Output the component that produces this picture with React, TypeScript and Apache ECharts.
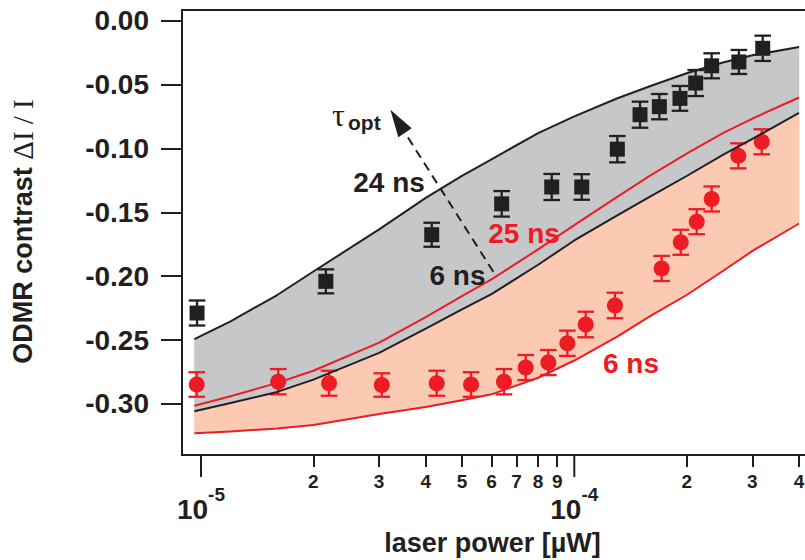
import React, { useEffect, useRef } from 'react';
import * as echarts from 'echarts';

// ---- theory curves, shared power grid (µW) ----
const curvePower = [9.6e-6, 1.2e-5, 1.6e-5, 2e-5, 3e-5, 4e-5, 5e-5, 6e-5, 8e-5, 1e-4, 1.3e-4, 1.6e-4, 2e-4, 2.5e-4, 3e-4, 4e-4];
const theoryBlack24ns = [-0.2493, -0.2353, -0.2147, -0.1963, -0.1633, -0.1386, -0.1214, -0.1084, -0.0879, -0.0748, -0.0608, -0.0510, -0.0410, -0.0326, -0.0270, -0.0205];
const theoryBlack6ns = [-0.3057, -0.2993, -0.2906, -0.2810, -0.2600, -0.2410, -0.2260, -0.2140, -0.1910, -0.1720, -0.1526, -0.1375, -0.1215, -0.1050, -0.0925, -0.0720];
const theoryRed25ns = [-0.3015, -0.2940, -0.2835, -0.2740, -0.2520, -0.2320, -0.2155, -0.2025, -0.1790, -0.1600, -0.1380, -0.1210, -0.1040, -0.0880, -0.0765, -0.0600];
const theoryRed6ns = [-0.3230, -0.3216, -0.3192, -0.3165, -0.3079, -0.3024, -0.2972, -0.2925, -0.2795, -0.2660, -0.2475, -0.2311, -0.2147, -0.1959, -0.1802, -0.1587];

// ---- measured data: black squares ----
const squarePower = [9.76e-6, 2.16e-5, 4.15e-5, 6.39e-5, 8.7e-5, 1.047e-4, 1.304e-4, 1.5e-4, 1.69e-4, 1.919e-4, 2.114e-4, 2.333e-4, 2.76e-4, 3.197e-4];
const squareContrast = [-0.2288, -0.204, -0.1675, -0.1433, -0.1301, -0.1301, -0.1005, -0.0735, -0.0672, -0.0607, -0.0487, -0.0352, -0.0322, -0.0215];
const squareError = [0.0098, 0.0094, 0.0094, 0.01, 0.0102, 0.01, 0.0103, 0.0102, 0.0099, 0.0097, 0.0102, 0.0098, 0.0094, 0.0099];

// ---- measured data: red circles ----
const circlePower = [9.74e-6, 1.61e-5, 2.203e-5, 3.05e-5, 4.28e-5, 5.29e-5, 6.48e-5, 7.41e-5, 8.52e-5, 9.58e-5, 1.073e-4, 1.285e-4, 1.714e-4, 1.928e-4, 2.128e-4, 2.333e-4, 2.75e-4, 3.177e-4];
const circleContrast = [-0.2848, -0.2826, -0.2838, -0.2852, -0.2838, -0.2848, -0.2826, -0.2715, -0.2676, -0.2525, -0.2378, -0.2229, -0.1939, -0.1734, -0.1573, -0.1395, -0.1057, -0.0947];
const circleError = [0.0096, 0.0099, 0.0098, 0.0092, 0.0098, 0.0096, 0.0099, 0.0098, 0.0098, 0.0099, 0.01, 0.01, 0.0098, 0.0098, 0.0098, 0.0098, 0.0098, 0.0098];

// ---- ticks ----
const majorTickPower = [1e-5, 1e-4];
const minorTickPower = [2e-5, 3e-5, 4e-5, 5e-5, 6e-5, 7e-5, 8e-5, 9e-5, 2e-4, 3e-4, 4e-4];
const yTicks = [-0.3, -0.25, -0.2, -0.15, -0.1, -0.05, 0];

const BLACK = '#231f20';
const RED = '#ed1c24';
const GREY = '#c6c7c9';
const SALMON = '#fcc9b3';
const SANS = '"Liberation Sans", Arial, Helvetica, sans-serif';
const SERIF = '"Liberation Serif", "Times New Roman", serif';

const X_MIN = -5.0509;
const X_MAX = -3.3552;
const Y_MIN = -0.34;
const Y_MAX = 0.0085;

const lg = (p: number) => Math.log10(p);

function curveData(values: number[]) {
  return curvePower.map((p, i) => [lg(p), values[i]]);
}

function band(upper: number[], lower: number[], color: string) {
  return {
    type: 'custom',
    silent: true,
    data: curvePower.map((p, i) => [lg(p), upper[i], lower[i]]),
    encode: { x: 0, y: [1, 2] },
    renderItem: (params: any, api: any) => {
      if (params.dataIndexInside !== 0) return { type: 'group', children: [] };
      const n = params.dataInsideLength;
      const top: number[][] = [];
      const bot: number[][] = [];
      for (let i = 0; i < n; i++) {
        const x = api.value(0, i);
        top.push(api.coord([x, api.value(1, i)]));
        bot.push(api.coord([x, api.value(2, i)]));
      }
      return {
        type: 'polygon',
        shape: { points: top.concat(bot.reverse()) },
        style: { fill: color, stroke: color, lineWidth: 0.5 },
      };
    },
  };
}

function errorBars(power: number[], val: number[], err: number[], color: string) {
  return {
    type: 'custom',
    silent: true,
    data: power.map((p, i) => [lg(p), val[i] - err[i], val[i] + err[i]]),
    encode: { x: 0, y: [1, 2] },
    renderItem: (params: any, api: any) => {
      const x = api.value(0);
      const lo = api.coord([x, api.value(1)]);
      const hi = api.coord([x, api.value(2)]);
      const hw = 8.3;
      const style = { stroke: color, lineWidth: 2.3 };
      return {
        type: 'group',
        children: [
          { type: 'line', shape: { x1: lo[0], y1: lo[1], x2: hi[0], y2: hi[1] }, style },
          { type: 'line', shape: { x1: lo[0] - hw, y1: lo[1], x2: lo[0] + hw, y2: lo[1] }, style },
          { type: 'line', shape: { x1: hi[0] - hw, y1: hi[1], x2: hi[0] + hw, y2: hi[1] }, style },
        ],
      };
    },
  };
}

// long decade ticks below the frame, placed through the axes' scales
function majorTicks() {
  return {
    type: 'custom',
    silent: true,
    clip: false,
    data: majorTickPower.map((p) => [lg(p), Y_MIN]),
    encode: { x: 0, y: 1 },
    renderItem: (params: any, api: any) => {
      const pt = api.coord([api.value(0), api.value(1)]);
      return {
        type: 'line',
        shape: { x1: pt[0], y1: pt[1], x2: pt[0], y2: pt[1] + 22 },
        style: { stroke: BLACK, lineWidth: 2 },
      };
    },
  };
}

function theoryLine(values: number[], color: string) {
  return {
    type: 'line',
    silent: true,
    symbol: 'none',
    showSymbol: false,
    data: curveData(values),
    lineStyle: { color, width: 2, join: 'round' },
  };
}

function txt(text: string, x: number, y: number, color: string, size = 28, extra: any = {}) {
  return {
    type: 'text',
    x,
    y,
    z: 100,
    style: {
      text,
      fill: color,
      fontFamily: SANS,
      fontWeight: 'bold',
      fontSize: size,
      align: 'center',
      textAlign: 'center',
      verticalAlign: 'middle',
      textVerticalAlign: 'middle',
      ...extra,
    },
  };
}

export default function App() {
  const ref = useRef<HTMLDivElement>(null);

  useEffect(() => {
    if (!ref.current) return;
    const chart = echarts.init(ref.current, null, { renderer: 'svg' });

    const option: any = {
      animation: false,
      textStyle: { fontFamily: SANS },
      grid: {
        left: 182,
        top: 10,
        right: -10,
        bottom: 105,
        show: true,
        borderColor: BLACK,
        borderWidth: 2,
        backgroundColor: 'transparent',
        outerBoundsMode: 'none',
      },
      xAxis: [
        {
          type: 'value',
          position: 'bottom',
          min: X_MIN,
          max: X_MAX,
          axisLine: { show: false },
          splitLine: { show: false },
          axisTick: { show: false },
          axisLabel: {
            customValues: majorTickPower.map(lg),
            margin: 38,
            formatter: (v: number) => `{a|10}{b|${Math.round(v)}}`,
            rich: {
              a: { fontSize: 28, fontWeight: 'bold', fontFamily: SANS, color: BLACK, lineHeight: 30, verticalAlign: 'bottom' },
              b: { fontSize: 19, fontWeight: 'bold', fontFamily: SANS, color: BLACK, lineHeight: 20, verticalAlign: 'bottom', padding: [0, 0, 19, 0] },
            },
          },
        },
        {
          type: 'value',
          position: 'bottom',
          min: X_MIN,
          max: X_MAX,
          axisLine: { show: false },
          splitLine: { show: false },
          axisTick: {
            show: true,
            customValues: minorTickPower.map(lg),
            length: 12,
            lineStyle: { color: BLACK, width: 2 },
          },
          axisLabel: {
            customValues: minorTickPower.map(lg),
            margin: 17,
            fontSize: 19,
            lineHeight: 19,
            fontWeight: 'bold',
            fontFamily: SANS,
            color: BLACK,
            formatter: (v: number) => {
              const p = Math.pow(10, v);
              const dec = Math.pow(10, Math.floor(v + 1e-9));
              return String(Math.round(p / dec));
            },
          },
        },
      ],
      yAxis: {
        type: 'value',
        min: Y_MIN,
        max: Y_MAX,
        axisLine: { show: false },
        splitLine: { show: false },
        axisTick: {
          show: true,
          customValues: yTicks,
          length: 21,
          lineStyle: { color: BLACK, width: 2 },
        },
        axisLabel: {
          customValues: yTicks,
          margin: 33,
          fontSize: 28,
          fontWeight: 'bold',
          fontFamily: SANS,
          color: BLACK,
          formatter: (v: number) => (Math.abs(v) < 1e-9 ? '0.00' : v.toFixed(2)),
        },
      },
      series: [
        band(theoryBlack6ns, theoryRed6ns, SALMON),
        band(theoryBlack24ns, theoryBlack6ns, GREY),
        theoryLine(theoryBlack24ns, BLACK),
        theoryLine(theoryBlack6ns, BLACK),
        theoryLine(theoryRed25ns, RED),
        theoryLine(theoryRed6ns, RED),
        errorBars(squarePower, squareContrast, squareError, BLACK),
        errorBars(circlePower, circleContrast, circleError, RED),
        majorTicks(),
        {
          type: 'scatter',
          silent: true,
          symbol: 'rect',
          symbolSize: 15,
          itemStyle: { color: BLACK, opacity: 1 },
          data: squarePower.map((p, i) => [lg(p), squareContrast[i]]),
        },
        {
          type: 'scatter',
          silent: true,
          symbol: 'circle',
          symbolSize: 16,
          itemStyle: { color: RED, opacity: 1 },
          data: circlePower.map((p, i) => [lg(p), circleContrast[i]]),
        },
      ],
      graphic: {
        elements: [
          {
            type: 'text',
            x: 23,
            y: 231.5,
            rotation: Math.PI / 2,
            style: {
              text: '{a|ODMR contrast }{b|ΔI / I}',
              align: 'center',
              textAlign: 'center',
              verticalAlign: 'middle',
              textVerticalAlign: 'middle',
              rich: {
                a: { fontFamily: SANS, fontWeight: 'bold', fontSize: 27, fill: BLACK },
                b: { fontFamily: SERIF, fontSize: 29, fill: BLACK },
              },
            },
          },
          txt('laser power [µW]', 492.5, 543, BLACK, 27),
          txt('24 ns', 389, 182, BLACK),
          txt('6 ns', 457.5, 275.5, BLACK),
          txt('25 ns', 524, 233.5, RED),
          txt('6 ns', 631, 363, RED),
          {
            type: 'text',
            x: 332,
            y: 115,
            z: 100,
            style: { text: 'τ', fill: BLACK, fontFamily: SERIF, fontSize: 32, align: 'left', textAlign: 'left', verticalAlign: 'middle', textVerticalAlign: 'middle' },
          },
          {
            type: 'text',
            x: 348,
            y: 122,
            z: 100,
            style: { text: 'opt', fill: BLACK, fontFamily: SANS, fontWeight: 'bold', fontSize: 21, align: 'left', textAlign: 'left', verticalAlign: 'middle', textVerticalAlign: 'middle' },
          },
          {
            type: 'line',
            z: 100,
            shape: { x1: 493.3, y1: 271.7, x2: 405, y2: 132.8 },
            style: { stroke: BLACK, lineWidth: 2, lineDash: [9, 6] },
          },
          {
            type: 'polygon',
            z: 100,
            shape: { points: [[390.4, 109.8], [398.3, 137.3], [411.7, 128.3]] },
            style: { fill: BLACK },
          },
        ],
      },
    };

    chart.setOption(option);
    return () => chart.dispose();
  }, []);

  return (
    <div
      ref={ref}
      style={{ position: 'absolute', left: 0, top: 0, width: 805, height: 560 }}
    />
  );
}
